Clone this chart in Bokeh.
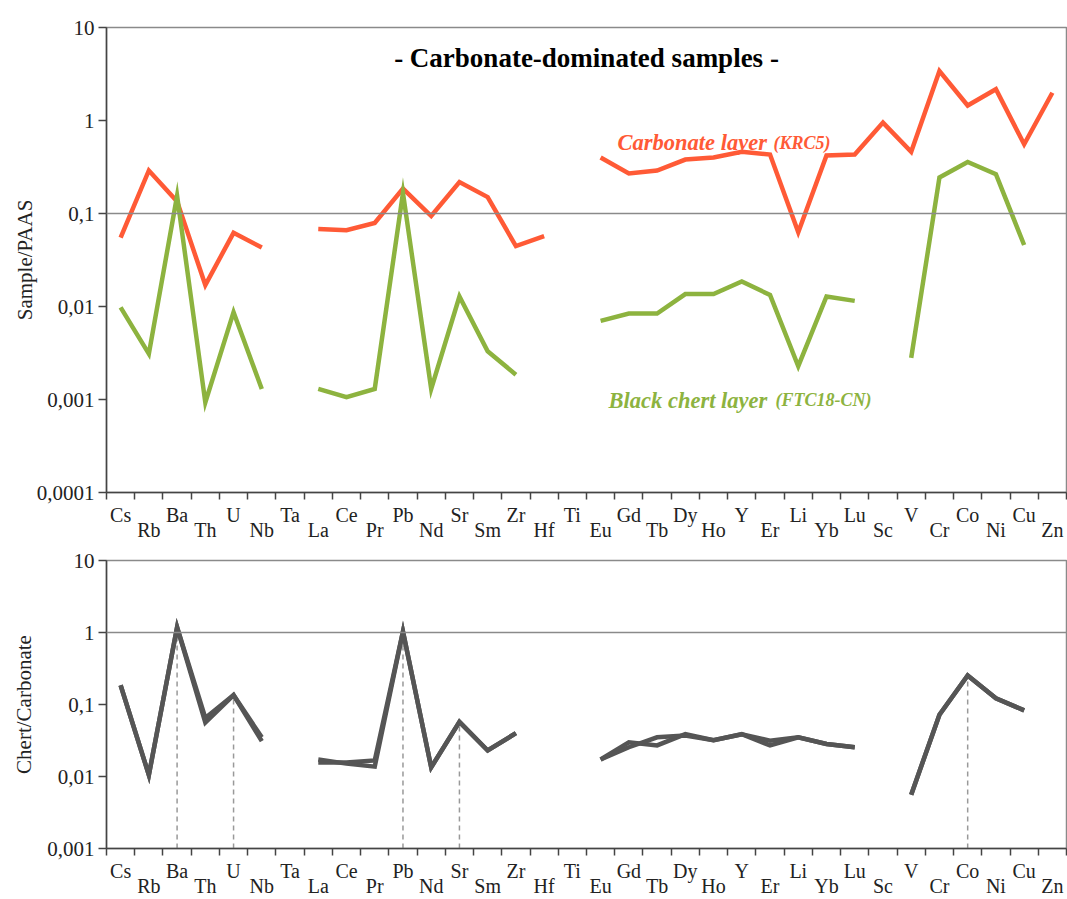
import numpy as np
from bokeh.plotting import figure
from bokeh.models import ColumnDataSource, Range1d, FixedTicker, LinearAxis, Span, Label
from bokeh.layouts import column
from bokeh.embed import file_html
from bokeh.resources import INLINE

nan = float("nan")

elements = ["Cs", "Rb", "Ba", "Th", "U", "Nb", "Ta", "La", "Ce", "Pr", "Pb", "Nd", "Sr",
            "Sm", "Zr", "Hf", "Ti", "Eu", "Gd", "Tb", "Dy", "Ho", "Y", "Er", "Li", "Yb",
            "Lu", "Sc", "V", "Cr", "Co", "Ni", "Cu", "Zn"]

# Sample / PAAS
carbonate_krc5 = [0.055, 0.29, 0.135, 0.017, 0.062, 0.043, nan, 0.068, 0.066, 0.079, 0.185,
                  0.094, 0.218, 0.150, 0.0446, 0.057, nan, 0.40, 0.27, 0.29, 0.38, 0.40, 0.46,
                  0.43, 0.063, 0.42, 0.43, 0.95, 0.46, 3.4, 1.45, 2.17, 0.556, 1.99]
chert_ftc18 = [0.0098, 0.0031, 0.155, 0.00093, 0.0087, 0.0013, nan, 0.0013, 0.00106, 0.0013,
               0.166, 0.0013, 0.0128, 0.0033, 0.00185, nan, nan, 0.0070, 0.0084, 0.0084,
               0.0136, 0.0136, 0.0186, 0.0133, 0.00228, 0.0128, 0.0115, nan, 0.0028, 0.244,
               0.358, 0.265, 0.0458, nan]

# Chert / Carbonate (two overlapping curves)
ratio_a = [0.185, 0.0105, 1.18, 0.056, 0.135, 0.031, nan, 0.0172, 0.0151, 0.0137, 1.03,
           0.0134, 0.0575, 0.023, 0.040, nan, nan, 0.0172, 0.0299, 0.027, 0.0387, 0.032,
           0.0387, 0.027, 0.035, 0.0283, 0.0255, nan, 0.0056, 0.072, 0.253, 0.122, 0.083, nan]
ratio_b = [0.185, 0.0105, 1.18, 0.065, 0.135, 0.035, nan, 0.0157, 0.0157, 0.0167, 1.03,
           0.0134, 0.0575, 0.023, 0.040, nan, nan, 0.0172, 0.0255, 0.035, 0.037, 0.032,
           0.0387, 0.0315, 0.035, 0.0283, 0.0255, nan, 0.0056, 0.072, 0.253, 0.122, 0.083, nan]

dashed_elements = ["Ba", "U", "Pb", "Sr", "Co"]

top_ticks = [0.0001, 0.001, 0.01, 0.1, 1, 10]
top_tick_labels = ["0,0001", "0,001", "0,01", "0,1", "1", "10"]
bot_ticks = [0.001, 0.01, 0.1, 1, 10]
bot_tick_labels = ["0,001", "0,01", "0,1", "1", "10"]

RED = "#FF5A36"
GREEN = "#8DB33F"
GREY = "#555555"
FONT = "Liberation Serif"

xpos = list(range(1, len(elements) + 1))
src = ColumnDataSource(dict(x=xpos,
                            carb=np.array(carbonate_krc5, dtype=float),
                            chert=np.array(chert_ftc18, dtype=float),
                            ra=np.array(ratio_a, dtype=float),
                            rb=np.array(ratio_b, dtype=float)))


def make_fig(height, y0, y1, ticks, tick_labels, ylabel, btop, bbottom, label_standoff):
    p = figure(width=1067, height=height, x_range=Range1d(0.5, len(elements) + 0.5),
               y_range=Range1d(y0, y1), y_axis_type="log", x_axis_location=None,
               output_backend="svg", toolbar_location=None,
               min_border_left=106, min_border_right=1,
               min_border_top=btop, min_border_bottom=bbottom)
    p.grid.visible = False
    p.outline_line_color = "#8a8a8a"
    p.outline_line_width = 1.5
    p.background_fill_color = "white"
    p.border_fill_color = "white"

    ya = p.yaxis[0]
    ya.ticker = FixedTicker(ticks=ticks, minor_ticks=[])
    ya.major_label_overrides = {t: l for t, l in zip(ticks, tick_labels)}
    ya.major_tick_out = 8
    ya.major_tick_in = 0
    ya.minor_tick_out = 0
    ya.minor_tick_in = 0
    ya.axis_line_color = "#444444"
    ya.axis_line_width = 1.5
    ya.major_tick_line_color = "#444444"
    ya.major_tick_line_width = 1.5
    ya.major_label_standoff = 4
    ya.major_label_text_font = FONT
    ya.major_label_text_font_size = "21px"
    ya.major_label_text_color = "#222222"
    ya.axis_label = ylabel
    ya.axis_label_text_font = FONT
    ya.axis_label_text_font_size = "21px"
    ya.axis_label_text_font_style = "normal"
    ya.axis_label_text_color = "#222222"
    ya.axis_label_standoff = label_standoff

    odd = xpos[0::2]
    even = xpos[1::2]
    ax1 = LinearAxis(ticker=FixedTicker(ticks=odd, minor_ticks=[i + 0.5 for i in range(0, len(elements) + 1)]),
                     major_label_overrides={i: elements[i - 1] for i in odd},
                     major_tick_out=0, major_tick_in=0, minor_tick_out=7, minor_tick_in=0,
                     axis_line_color="#444444", axis_line_width=1.5,
                     minor_tick_line_color="#444444", minor_tick_line_width=1.5,
                     major_label_standoff=4, major_label_text_font=FONT,
                     major_label_text_font_size="20px", major_label_text_color="#222222")
    ax2 = LinearAxis(ticker=FixedTicker(ticks=even, minor_ticks=[]),
                     major_label_overrides={i: elements[i - 1] for i in even},
                     major_tick_out=0, major_tick_in=0, minor_tick_out=0, minor_tick_in=0,
                     axis_line_color=None, major_tick_line_color=None, minor_tick_line_color=None,
                     major_label_standoff=-10, major_label_text_font=FONT,
                     major_label_text_font_size="20px", major_label_text_color="#222222")
    p.add_layout(ax1, "below")
    p.add_layout(ax2, "below")
    return p


def note(x, y, text, size, color, style="bold italic", align="left", baseline="alphabetic"):
    return Label(x=x, y=y, text=text, text_font=FONT, text_font_style=style,
                 text_font_size=size, text_align=align, text_baseline=baseline,
                 text_color=color)


# ---------- top figure ----------
p1 = make_fig(543, 0.0001, 10, top_ticks, top_tick_labels, "Sample/PAAS", 27, 51, -3)
p1.add_layout(Span(location=0.1, dimension="width", line_color="#8a8a8a", line_width=1.5))
p1.line("x", "carb", source=src, line_color=RED, line_width=4.5, line_join="miter")
p1.line("x", "chert", source=src, line_color=GREEN, line_width=4.5, line_join="miter")

p1.add_layout(note(17.5, 4.75, "- Carbonate-dominated samples -", "27px", "black",
                   style="bold", align="center", baseline="middle"))
p1.add_layout(note(18.60, 0.58, "Carbonate layer", "22.5px", RED))
p1.add_layout(note(24.12, 0.58, "(KRC5)", "18px", RED))
p1.add_layout(note(18.28, 0.00098, "Black chert layer", "22.5px", GREEN))
p1.add_layout(note(24.19, 0.00098, "(FTC18-CN)", "18px", GREEN))

# ---------- bottom figure ----------
p2 = make_fig(356, 0.001, 10, bot_ticks, bot_tick_labels, "Chert/Carbonate", 17, 51, 8)
p2.add_layout(Span(location=1, dimension="width", line_color="#8a8a8a", line_width=1.5))
dx = [elements.index(e) + 1 for e in dashed_elements]
dy = [ratio_a[i - 1] for i in dx]
p2.segment(x0=dx, y0=[0.001] * len(dx), x1=dx, y1=dy, line_color="#999999",
           line_width=1.5, line_dash="5 4")
p2.line("x", "ra", source=src, line_color=GREY, line_width=4.5, line_join="miter")
p2.line("x", "rb", source=src, line_color=GREY, line_width=4.5, line_join="miter")

layout = column(p1, p2, spacing=0)
open("out.html", "w").write(file_html(layout, INLINE))
